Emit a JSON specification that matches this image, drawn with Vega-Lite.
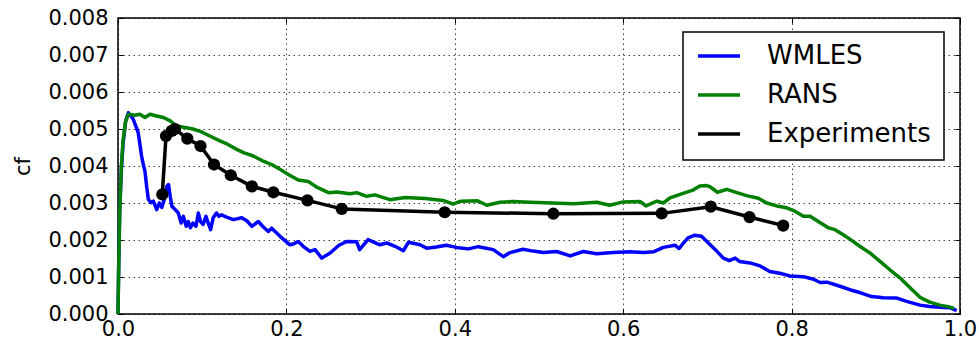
{
  "$schema": "https://vega.github.io/schema/vega-lite/v6.json",
  "width": 842,
  "height": 296,
  "autosize": {"type": "none"},
  "padding": {"left": 118, "top": 18, "right": 19, "bottom": 33},
  "background": "white",
  "config": {
    "font": "DejaVu Sans",
    "view": {"stroke": "#000000", "strokeWidth": 1.5},
    "axis": {
      "domain": false,
      "labelFont": "DejaVu Sans",
      "labelFontSize": 21,
      "labelColor": "#000000",
      "titleFont": "DejaVu Sans",
      "titleFontSize": 21,
      "titleFontWeight": "normal",
      "titleColor": "#000000",
      "tickColor": "#000000",
      "tickSize": -5,
      "tickWidth": 1,
      "gridColor": "#000000",
      "gridDash": [1.5, 3.5],
      "gridOpacity": 0.75,
      "gridWidth": 1
    },
    "legend": {
      "orient": "none",
      "legendX": 565,
      "legendY": 14,
      "strokeColor": "#000000",
      "strokeWidth": 1.5,
      "fillColor": "#ffffff",
      "padding": 13,
      "cornerRadius": 0,
      "symbolType": "stroke",
      "symbolStrokeWidth": 3.5,
      "symbolSize": 1764,
      "labelFont": "DejaVu Sans",
      "labelFontSize": 26,
      "labelColor": "#000000",
      "labelOffset": 25,
      "labelLimit": 400,
      "clipHeight": 22,
      "rowPadding": 13
    }
  },
  "datasets": {
    "curves": [
      {"s":"WMLES","x":0,"cf":0},{"s":"WMLES","x":0.0008,"cf":0.0013},{"s":"WMLES","x":0.002,"cf":0.0028},{"s":"WMLES","x":0.004,"cf":0.0039},{"s":"WMLES","x":0.006,"cf":0.0046},{"s":"WMLES","x":0.009,"cf":0.0052},{"s":"WMLES","x":0.0123,"cf":0.00544},{"s":"WMLES","x":0.018,"cf":0.00527},{"s":"WMLES","x":0.024,"cf":0.0049},{"s":"WMLES","x":0.028,"cf":0.00427},{"s":"WMLES","x":0.03,"cf":0.00404},{"s":"WMLES","x":0.032,"cf":0.00386},{"s":"WMLES","x":0.034,"cf":0.00345},{"s":"WMLES","x":0.036,"cf":0.0031},{"s":"WMLES","x":0.039,"cf":0.00301},{"s":"WMLES","x":0.042,"cf":0.00305},{"s":"WMLES","x":0.046,"cf":0.00282},{"s":"WMLES","x":0.049,"cf":0.003},{"s":"WMLES","x":0.052,"cf":0.00288},{"s":"WMLES","x":0.055,"cf":0.0031},{"s":"WMLES","x":0.058,"cf":0.00345},{"s":"WMLES","x":0.06,"cf":0.0035},{"s":"WMLES","x":0.062,"cf":0.00318},{"s":"WMLES","x":0.064,"cf":0.00291},{"s":"WMLES","x":0.068,"cf":0.00282},{"s":"WMLES","x":0.0716,"cf":0.00273},{"s":"WMLES","x":0.075,"cf":0.00246},{"s":"WMLES","x":0.0776,"cf":0.00264},{"s":"WMLES","x":0.081,"cf":0.00237},{"s":"WMLES","x":0.0835,"cf":0.0025},{"s":"WMLES","x":0.086,"cf":0.00233},{"s":"WMLES","x":0.089,"cf":0.00246},{"s":"WMLES","x":0.0926,"cf":0.00237},{"s":"WMLES","x":0.0954,"cf":0.00273},{"s":"WMLES","x":0.098,"cf":0.0025},{"s":"WMLES","x":0.101,"cf":0.00242},{"s":"WMLES","x":0.1045,"cf":0.00264},{"s":"WMLES","x":0.107,"cf":0.00246},{"s":"WMLES","x":0.11,"cf":0.00228},{"s":"WMLES","x":0.113,"cf":0.0026},{"s":"WMLES","x":0.117,"cf":0.00273},{"s":"WMLES","x":0.12,"cf":0.00264},{"s":"WMLES","x":0.123,"cf":0.00268},{"s":"WMLES","x":0.129,"cf":0.00262},{"s":"WMLES","x":0.137,"cf":0.00255},{"s":"WMLES","x":0.147,"cf":0.0026},{"s":"WMLES","x":0.153,"cf":0.00252},{"s":"WMLES","x":0.159,"cf":0.00237},{"s":"WMLES","x":0.1666,"cf":0.0025},{"s":"WMLES","x":0.1726,"cf":0.00235},{"s":"WMLES","x":0.1785,"cf":0.00223},{"s":"WMLES","x":0.1825,"cf":0.00232},{"s":"WMLES","x":0.1924,"cf":0.0021},{"s":"WMLES","x":0.2043,"cf":0.00187},{"s":"WMLES","x":0.208,"cf":0.00189},{"s":"WMLES","x":0.214,"cf":0.00196},{"s":"WMLES","x":0.22,"cf":0.00183},{"s":"WMLES","x":0.228,"cf":0.00169},{"s":"WMLES","x":0.234,"cf":0.00174},{"s":"WMLES","x":0.242,"cf":0.00151},{"s":"WMLES","x":0.252,"cf":0.00165},{"s":"WMLES","x":0.262,"cf":0.00185},{"s":"WMLES","x":0.2716,"cf":0.00196},{"s":"WMLES","x":0.2835,"cf":0.00195},{"s":"WMLES","x":0.287,"cf":0.00174},{"s":"WMLES","x":0.297,"cf":0.00201},{"s":"WMLES","x":0.311,"cf":0.00187},{"s":"WMLES","x":0.319,"cf":0.00192},{"s":"WMLES","x":0.329,"cf":0.00183},{"s":"WMLES","x":0.339,"cf":0.00171},{"s":"WMLES","x":0.345,"cf":0.00194},{"s":"WMLES","x":0.3587,"cf":0.00187},{"s":"WMLES","x":0.3666,"cf":0.00178},{"s":"WMLES","x":0.378,"cf":0.00181},{"s":"WMLES","x":0.39,"cf":0.00186},{"s":"WMLES","x":0.402,"cf":0.0018},{"s":"WMLES","x":0.416,"cf":0.00176},{"s":"WMLES","x":0.428,"cf":0.00182},{"s":"WMLES","x":0.4457,"cf":0.00174},{"s":"WMLES","x":0.4576,"cf":0.00155},{"s":"WMLES","x":0.4656,"cf":0.00166},{"s":"WMLES","x":0.481,"cf":0.00175},{"s":"WMLES","x":0.493,"cf":0.0017},{"s":"WMLES","x":0.505,"cf":0.00166},{"s":"WMLES","x":0.521,"cf":0.00169},{"s":"WMLES","x":0.537,"cf":0.00157},{"s":"WMLES","x":0.5526,"cf":0.00169},{"s":"WMLES","x":0.5685,"cf":0.00163},{"s":"WMLES","x":0.588,"cf":0.00166},{"s":"WMLES","x":0.608,"cf":0.00168},{"s":"WMLES","x":0.624,"cf":0.00166},{"s":"WMLES","x":0.636,"cf":0.00168},{"s":"WMLES","x":0.6476,"cf":0.0018},{"s":"WMLES","x":0.6615,"cf":0.00186},{"s":"WMLES","x":0.6665,"cf":0.00177},{"s":"WMLES","x":0.671,"cf":0.0019},{"s":"WMLES","x":0.677,"cf":0.00206},{"s":"WMLES","x":0.685,"cf":0.00213},{"s":"WMLES","x":0.693,"cf":0.0021},{"s":"WMLES","x":0.703,"cf":0.00188},{"s":"WMLES","x":0.711,"cf":0.0017},{"s":"WMLES","x":0.719,"cf":0.00151},{"s":"WMLES","x":0.726,"cf":0.00144},{"s":"WMLES","x":0.733,"cf":0.00151},{"s":"WMLES","x":0.738,"cf":0.00142},{"s":"WMLES","x":0.7506,"cf":0.00138},{"s":"WMLES","x":0.7625,"cf":0.0013},{"s":"WMLES","x":0.774,"cf":0.00115},{"s":"WMLES","x":0.786,"cf":0.0011},{"s":"WMLES","x":0.798,"cf":0.00103},{"s":"WMLES","x":0.814,"cf":0.00101},{"s":"WMLES","x":0.826,"cf":0.00094},{"s":"WMLES","x":0.834,"cf":0.00085},{"s":"WMLES","x":0.842,"cf":0.00086},{"s":"WMLES","x":0.8575,"cf":0.00075},{"s":"WMLES","x":0.87,"cf":0.00065},{"s":"WMLES","x":0.881,"cf":0.00058},{"s":"WMLES","x":0.895,"cf":0.00047},{"s":"WMLES","x":0.909,"cf":0.00044},{"s":"WMLES","x":0.925,"cf":0.00043},{"s":"WMLES","x":0.9366,"cf":0.00034},{"s":"WMLES","x":0.9525,"cf":0.00024},{"s":"WMLES","x":0.964,"cf":0.0002},{"s":"WMLES","x":0.976,"cf":0.00018},{"s":"WMLES","x":0.988,"cf":0.00017},{"s":"WMLES","x":0.996,"cf":0.00009},
      {"s":"RANS","x":0,"cf":0},{"s":"RANS","x":0.0008,"cf":0.0012},{"s":"RANS","x":0.002,"cf":0.0027},{"s":"RANS","x":0.004,"cf":0.004},{"s":"RANS","x":0.006,"cf":0.0047},{"s":"RANS","x":0.009,"cf":0.0052},{"s":"RANS","x":0.0123,"cf":0.0054},{"s":"RANS","x":0.02,"cf":0.00537},{"s":"RANS","x":0.026,"cf":0.0054},{"s":"RANS","x":0.032,"cf":0.00531},{"s":"RANS","x":0.038,"cf":0.0054},{"s":"RANS","x":0.046,"cf":0.00535},{"s":"RANS","x":0.054,"cf":0.00531},{"s":"RANS","x":0.062,"cf":0.00522},{"s":"RANS","x":0.0697,"cf":0.00508},{"s":"RANS","x":0.0796,"cf":0.00504},{"s":"RANS","x":0.089,"cf":0.005},{"s":"RANS","x":0.0994,"cf":0.00492},{"s":"RANS","x":0.109,"cf":0.00481},{"s":"RANS","x":0.121,"cf":0.00468},{"s":"RANS","x":0.13,"cf":0.00459},{"s":"RANS","x":0.141,"cf":0.00445},{"s":"RANS","x":0.149,"cf":0.00436},{"s":"RANS","x":0.1607,"cf":0.00427},{"s":"RANS","x":0.1726,"cf":0.00413},{"s":"RANS","x":0.1825,"cf":0.00404},{"s":"RANS","x":0.1924,"cf":0.00391},{"s":"RANS","x":0.2023,"cf":0.00377},{"s":"RANS","x":0.214,"cf":0.00362},{"s":"RANS","x":0.226,"cf":0.00358},{"s":"RANS","x":0.236,"cf":0.00343},{"s":"RANS","x":0.25,"cf":0.00328},{"s":"RANS","x":0.26,"cf":0.0033},{"s":"RANS","x":0.2755,"cf":0.00325},{"s":"RANS","x":0.2835,"cf":0.00328},{"s":"RANS","x":0.2954,"cf":0.00318},{"s":"RANS","x":0.305,"cf":0.00322},{"s":"RANS","x":0.323,"cf":0.00309},{"s":"RANS","x":0.341,"cf":0.00315},{"s":"RANS","x":0.3646,"cf":0.00312},{"s":"RANS","x":0.386,"cf":0.00307},{"s":"RANS","x":0.398,"cf":0.00297},{"s":"RANS","x":0.407,"cf":0.00305},{"s":"RANS","x":0.427,"cf":0.00306},{"s":"RANS","x":0.438,"cf":0.00294},{"s":"RANS","x":0.4537,"cf":0.00302},{"s":"RANS","x":0.4695,"cf":0.00304},{"s":"RANS","x":0.489,"cf":0.00302},{"s":"RANS","x":0.515,"cf":0.003},{"s":"RANS","x":0.541,"cf":0.00298},{"s":"RANS","x":0.5685,"cf":0.00302},{"s":"RANS","x":0.584,"cf":0.00294},{"s":"RANS","x":0.6,"cf":0.00303},{"s":"RANS","x":0.62,"cf":0.00304},{"s":"RANS","x":0.627,"cf":0.00292},{"s":"RANS","x":0.64,"cf":0.00305},{"s":"RANS","x":0.6477,"cf":0.003},{"s":"RANS","x":0.6556,"cf":0.00314},{"s":"RANS","x":0.671,"cf":0.00326},{"s":"RANS","x":0.683,"cf":0.00335},{"s":"RANS","x":0.691,"cf":0.00346},{"s":"RANS","x":0.699,"cf":0.00347},{"s":"RANS","x":0.703,"cf":0.00344},{"s":"RANS","x":0.712,"cf":0.00329},{"s":"RANS","x":0.723,"cf":0.00337},{"s":"RANS","x":0.735,"cf":0.00328},{"s":"RANS","x":0.7466,"cf":0.0032},{"s":"RANS","x":0.7605,"cf":0.00313},{"s":"RANS","x":0.7704,"cf":0.003},{"s":"RANS","x":0.7842,"cf":0.00291},{"s":"RANS","x":0.794,"cf":0.00287},{"s":"RANS","x":0.804,"cf":0.00278},{"s":"RANS","x":0.814,"cf":0.00264},{"s":"RANS","x":0.822,"cf":0.00264},{"s":"RANS","x":0.8317,"cf":0.0025},{"s":"RANS","x":0.8436,"cf":0.00233},{"s":"RANS","x":0.8515,"cf":0.00228},{"s":"RANS","x":0.8614,"cf":0.00214},{"s":"RANS","x":0.87,"cf":0.00201},{"s":"RANS","x":0.881,"cf":0.00183},{"s":"RANS","x":0.893,"cf":0.00165},{"s":"RANS","x":0.905,"cf":0.00142},{"s":"RANS","x":0.917,"cf":0.00119},{"s":"RANS","x":0.929,"cf":0.00097},{"s":"RANS","x":0.941,"cf":0.0007},{"s":"RANS","x":0.9525,"cf":0.00045},{"s":"RANS","x":0.964,"cf":0.00032},{"s":"RANS","x":0.976,"cf":0.00024},{"s":"RANS","x":0.986,"cf":0.0002},{"s":"RANS","x":0.993,"cf":0.00015},
      {"s":"Experiments","x":0.0526,"cf":0.00323},{"s":"Experiments","x":0.057,"cf":0.00481},{"s":"Experiments","x":0.0638,"cf":0.00495},{"s":"Experiments","x":0.0677,"cf":0.005},{"s":"Experiments","x":0.0823,"cf":0.00474},{"s":"Experiments","x":0.098,"cf":0.00454},{"s":"Experiments","x":0.114,"cf":0.00404},{"s":"Experiments","x":0.134,"cf":0.00375},{"s":"Experiments","x":0.159,"cf":0.00345},{"s":"Experiments","x":0.1845,"cf":0.00329},{"s":"Experiments","x":0.225,"cf":0.00307},{"s":"Experiments","x":0.2657,"cf":0.00284},{"s":"Experiments","x":0.388,"cf":0.00275},{"s":"Experiments","x":0.517,"cf":0.00271},{"s":"Experiments","x":0.6457,"cf":0.00272},{"s":"Experiments","x":0.704,"cf":0.0029},{"s":"Experiments","x":0.75,"cf":0.00262},{"s":"Experiments","x":0.79,"cf":0.00239}
    ]
  },
  "data": {"name": "curves"},
  "resolve": {"axis": {"x": "independent", "y": "independent"}},
  "layer": [
    {
      "mark": {"type": "line", "strokeWidth": 3.5, "strokeJoin": "round"},
      "encoding": {
        "x": {"field": "x", "type": "quantitative", "scale": {"domain": [0, 1], "nice": false},
              "axis": {"orient": "bottom", "values": [0, 0.2, 0.4, 0.6, 0.8, 1.0], "format": ".1f", "title": null, "grid": true, "labelPadding": 9, "labelFlush": false}},
        "y": {"field": "cf", "type": "quantitative", "scale": {"domain": [0, 0.008], "nice": false},
              "axis": {"orient": "left", "values": [0, 0.001, 0.002, 0.003, 0.004, 0.005, 0.006, 0.007, 0.008], "format": ".3f", "title": "cf", "grid": true, "labelPadding": 15, "titlePadding": 14, "labelFlush": false}},
        "color": {"field": "s", "type": "nominal", "scale": {"domain": ["WMLES", "RANS", "Experiments"], "range": ["#0000ff", "#008000", "#000000"]},
                  "legend": {"title": null}},
        "order": {"field": "x", "type": "quantitative"}
      }
    },
    {
      "transform": [{"filter": "datum.s === 'Experiments'"}],
      "mark": {"type": "point", "filled": true, "size": 150, "color": "#000000", "opacity": 1},
      "encoding": {
        "x": {"field": "x", "type": "quantitative", "scale": {"domain": [0, 1], "nice": false},
              "axis": {"orient": "top", "values": [0, 0.2, 0.4, 0.6, 0.8, 1.0], "labels": false, "title": null, "grid": false}},
        "y": {"field": "cf", "type": "quantitative", "scale": {"domain": [0, 0.008], "nice": false},
              "axis": {"orient": "right", "values": [0, 0.001, 0.002, 0.003, 0.004, 0.005, 0.006, 0.007, 0.008], "labels": false, "title": null, "grid": false}}
      }
    }
  ]
}
